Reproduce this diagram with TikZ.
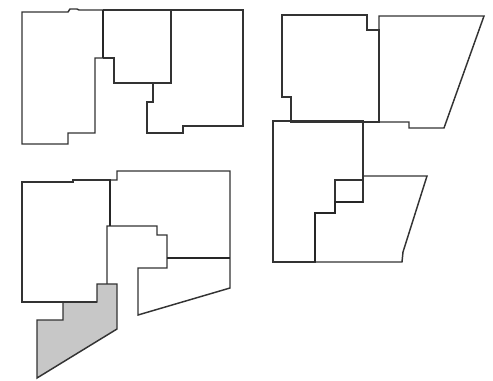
\documentclass[tikz,border=0pt]{standalone}
\usetikzlibrary{positioning}

\begin{document}
\begin{tikzpicture}[
    x=0.75pt, y=-0.75pt,
    room/.style={draw=black!80, line width=1.1pt, line join=miter},
    wall/.style={draw=black!85, line width=1.5pt},
    shaded/.style={room, fill=black!22}
]
\useasboundingbox (0,0) rectangle (493,381);

% top left group
\draw[room] (22,12) -- (68,12) -- (70,9) -- (77,9) -- (79,10) -- (103,10) -- (103,58)
    -- (95,58) -- (95,133) -- (68,133) -- (68,144) -- (22,144) -- cycle;
\draw[room] (103,10) -- (171,10) -- (171,83) -- (114,83) -- (114,58) -- (103,58);
\draw[room] (171,10) -- (243,10) -- (243,126) -- (183,126) -- (183,133) -- (147,133)
    -- (147,102) -- (153,102) -- (153,83) -- (171,83);
\draw[wall] (103,10) -- (103,58);

% top right group
\draw[room] (282,15) -- (367,15) -- (367,30) -- (379,30) -- (379,122) -- (291,122)
    -- (291,97) -- (282,97) -- cycle;
\draw[room] (379,30) -- (379,16) -- (484,16) -- (444,128) -- (409,128) -- (409,122) -- (379,122);

% lower right group
\draw[room] (273,121) -- (363,121) -- (363,180) -- (335,180) -- (335,213) -- (315,213)
    -- (315,262) -- (273,262) -- cycle;
\draw[room] (335,180) -- (363,180) -- (363,202) -- (335,202);
\draw[room] (315,262) -- (402,262) -- (403,252) -- (427,176) -- (363,176);
\draw[wall] (363,202) -- (335,202) -- (335,213) -- (315,213) -- (315,262);

% lower left group
\draw[shaded] (97,284) -- (117,284) -- (117,329) -- (37,378) -- (37,320) -- (63,320)
    -- (63,302) -- (97,302) -- cycle;
\draw[room] (97,302) -- (22,302) -- (22,182) -- (73,182) -- (73,180) -- (110,180)
    -- (110,226);
\draw[room] (110,180) -- (117,180) -- (117,171) -- (230,171) -- (230,288) -- (138,315)
    -- (138,268) -- (167,268) -- (167,235) -- (157,235) -- (157,226) -- (107,226) -- (107,284);
\draw[wall] (167,258) -- (230,258);
\draw[wall] (110,180) -- (110,226);
\end{tikzpicture}
\end{document}
